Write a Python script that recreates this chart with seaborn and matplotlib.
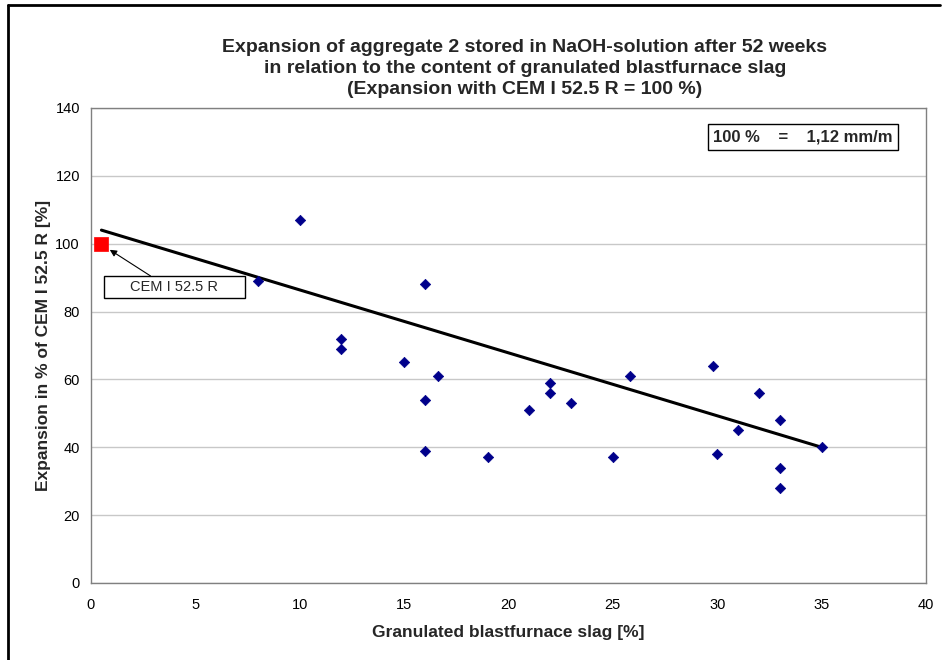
import matplotlib
matplotlib.use("Agg")
import matplotlib.pyplot as plt
import seaborn as sns
import pandas as pd
from matplotlib.lines import Line2D
from matplotlib.patches import Rectangle

slag = [10, 8, 12, 12, 15, 16, 16, 16, 16.6, 19, 21, 22, 22, 23, 25, 25.8, 29.8, 30, 31, 32, 33, 33, 33, 35]
expansion = [107, 89, 72, 69, 65, 88, 54, 39, 61, 37, 51, 59, 56, 53, 37, 61, 64, 38, 45, 56, 48, 34, 28, 40]
ref_slag = [0.5]
ref_expansion = [100]
trend_x = [0.5, 35]
trend_y = [104, 40]
title = ("Expansion of aggregate 2 stored in NaOH-solution after 52 weeks\n"
         "in relation to the content of granulated blastfurnace slag\n"
         "(Expansion with CEM I 52.5 R = 100 %)")

sns.set_theme(style="white")
plt.rcParams['font.family'] = ['Liberation Sans', 'DejaVu Sans']

fig = plt.figure(figsize=(9.42, 6.6), dpi=100)
ax = fig.add_axes([0.0966, 0.1167, 0.8864, 0.7197])

df = pd.DataFrame({"x": slag, "y": expansion})
sns.lineplot(x=trend_x, y=trend_y, ax=ax, color="black", linewidth=2.2, zorder=3)
sns.scatterplot(data=df, x="x", y="y", ax=ax, marker="D", s=28, color="#00008B",
                edgecolor="#00008B", linewidth=0.5, zorder=4)
sns.scatterplot(x=ref_slag, y=ref_expansion, ax=ax, marker="s", s=95, color="#FF0000",
                edgecolor="#FF0000", linewidth=0.5, zorder=5)

ax.set_xlim(0, 40)
ax.set_ylim(0, 140)
ax.set_xticks(range(0, 41, 5))
ax.set_yticks(range(0, 141, 20))
ax.yaxis.grid(True, color="#C8C8C8", linewidth=1)
ax.xaxis.grid(False)
for s in ax.spines.values():
    s.set_color("#808080")
    s.set_linewidth(1)
ax.tick_params(axis="both", direction="out", length=5, width=1, color="#808080",
               labelsize=10.5, labelcolor="black", pad=3)
ax.tick_params(axis="x", pad=6)

ax.set_xlabel("Granulated blastfurnace slag [%]", fontsize=12.5, fontweight="bold", labelpad=9)
ax.set_ylabel("Expansion in % of CEM I 52.5 R [%]", fontsize=12.5, fontweight="bold", labelpad=3)

fig.text(0.557, 0.941, title, ha="center", va="top", fontsize=14, fontweight="bold",
         linespacing=1.3)

# annotation box for the reference cement
ax.add_patch(Rectangle((0.62, 84.0), 6.76, 6.5, fc="white", ec="black", lw=1, zorder=6))
ax.text(4.0, 87.25, "CEM I 52.5 R", fontsize=10.5, ha="center", va="center", zorder=7)
ax.annotate("", xy=(0.9, 98.2), xytext=(2.85, 90.5),
            arrowprops=dict(arrowstyle="-|>", color="black", lw=0.8, mutation_scale=10,
                            shrinkA=0, shrinkB=0), zorder=7)

ax.text(0.96, 0.938, "100 %    =    1,12 mm/m", transform=ax.transAxes, fontsize=12,
        fontweight="bold", ha="right", va="center",
        bbox=dict(boxstyle="square,pad=0.33", fc="white", ec="black", lw=1))

fig.add_artist(Line2D([0.0085, 0.998], [0.992, 0.992], transform=fig.transFigure,
                      color="black", lw=2))
fig.add_artist(Line2D([0.0085, 0.0085], [0.0, 0.992], transform=fig.transFigure,
                      color="black", lw=2))

fig.savefig("out.png", dpi=100)
